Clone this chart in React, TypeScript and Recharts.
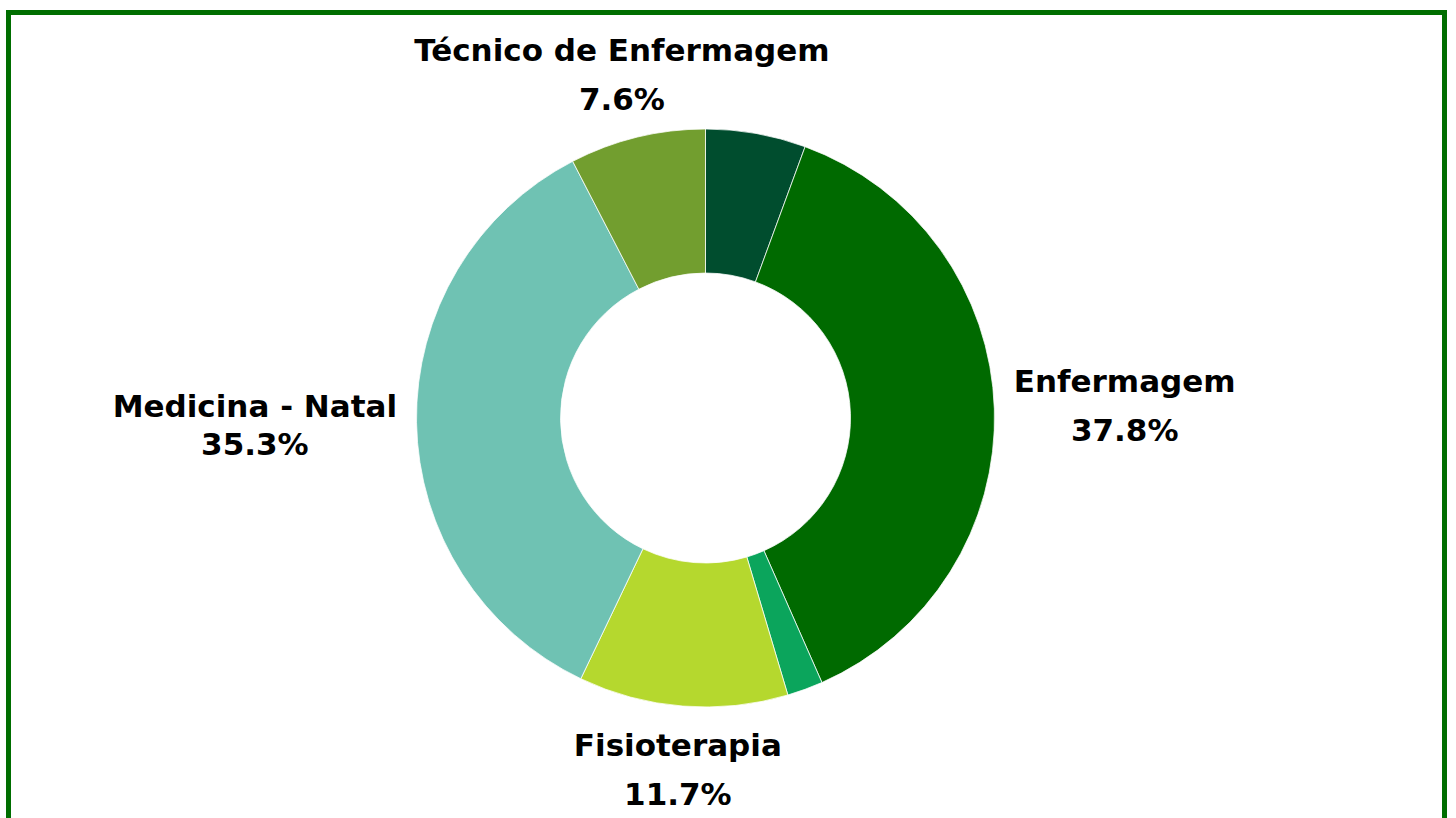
import React from "react";
import { PieChart, Pie, Cell } from "recharts";

const CATEGORIES = [
  "Outros",
  "Enfermagem",
  "Outros cursos",
  "Fisioterapia",
  "Medicina - Natal",
  "Técnico de Enfermagem",
];
const VALUES = [5.6, 37.8, 2.0, 11.7, 35.3, 7.6];
const LABELED = ["Enfermagem", "Fisioterapia", "Medicina - Natal", "Técnico de Enfermagem"];
const COLORS = ["#004d2e", "#006a00", "#0ba55c", "#b5d82e", "#6fc2b3", "#729e2f"];

const FONT_FAMILY = '"DejaVu Sans", sans-serif';
const FONT_SIZE = 31;
const CAP = 22.5;
const PAD = 8;
const GAP = 19.5;

const data = CATEGORIES.map((name, i) => ({ name, value: VALUES[i] }));

let ctx: CanvasRenderingContext2D | null = null;
function textWidth(s: string) {
  if (!ctx) {
    ctx = document.createElement("canvas").getContext("2d");
  }
  if (!ctx) return s.length * FONT_SIZE * 0.62;
  ctx.font = `bold ${FONT_SIZE}px ${FONT_FAMILY}`;
  return ctx.measureText(s).width;
}

const RADIAN = Math.PI / 180;

function renderLabel(props: any) {
  const { cx, cy, midAngle, outerRadius, name, value } = props;
  if (!LABELED.includes(name)) return null;
  const pct = `${Number(value).toFixed(1)}%`;
  // Medicina label wraps more tightly in the original
  const lineGap = name === "Medicina - Natal" ? 38 : 49;
  const w = Math.max(textWidth(name), textWidth(pct));
  const h = CAP + lineGap + 2 * PAD;
  const cos = Math.cos(-midAngle * RADIAN);
  const sin = Math.sin(-midAngle * RADIAN);
  const ext = Math.min(
    Math.abs(cos) > 1e-6 ? w / 2 / Math.abs(cos) : Infinity,
    Math.abs(sin) > 1e-6 ? h / 2 / Math.abs(sin) : Infinity
  );
  const d = outerRadius + GAP + ext;
  const bx = cx + d * cos;
  const by = cy + d * sin;
  const firstBase = by - h / 2 + PAD + CAP;
  return (
    <g key={`lbl-${name}`}>
      <text
        x={bx}
        y={firstBase}
        textAnchor="middle"
        fill="#000"
        fontFamily={FONT_FAMILY}
        fontWeight="bold"
        fontSize={FONT_SIZE}
      >
        {name}
      </text>
      <text
        x={bx}
        y={firstBase + lineGap}
        textAnchor="middle"
        fill="#000"
        fontFamily={FONT_FAMILY}
        fontWeight="bold"
        fontSize={FONT_SIZE}
      >
        {pct}
      </text>
    </g>
  );
}

export default function App() {
  return (
    <div
      style={{
        position: "absolute",
        left: 0,
        top: 0,
        width: 1456,
        height: 818,
        overflow: "hidden",
        background: "#fff",
      }}
    >
      <div
        style={{
          position: "absolute",
          left: 6,
          top: 10,
          width: 1441,
          height: 860,
          border: "5px solid #006e00",
          boxSizing: "border-box",
        }}
      />
      <div style={{ position: "absolute", left: 0, top: 0 }}>
        <PieChart
          width={1456}
          height={818}
          margin={{ top: 0, right: 0, bottom: 0, left: 0 }}
        >
          <Pie
            data={data}
            dataKey="value"
            nameKey="name"
            cx={705.5}
            cy={418}
            innerRadius={145}
            outerRadius={289}
            startAngle={90}
            endAngle={-270}
            stroke="#ffffff"
            strokeWidth={0.75}
            label={renderLabel}
            labelLine={false}
            isAnimationActive={false}
          >
            {data.map((entry, index) => (
              <Cell key={`cell-${index}`} fill={COLORS[index]} />
            ))}
          </Pie>
        </PieChart>
      </div>
    </div>
  );
}
